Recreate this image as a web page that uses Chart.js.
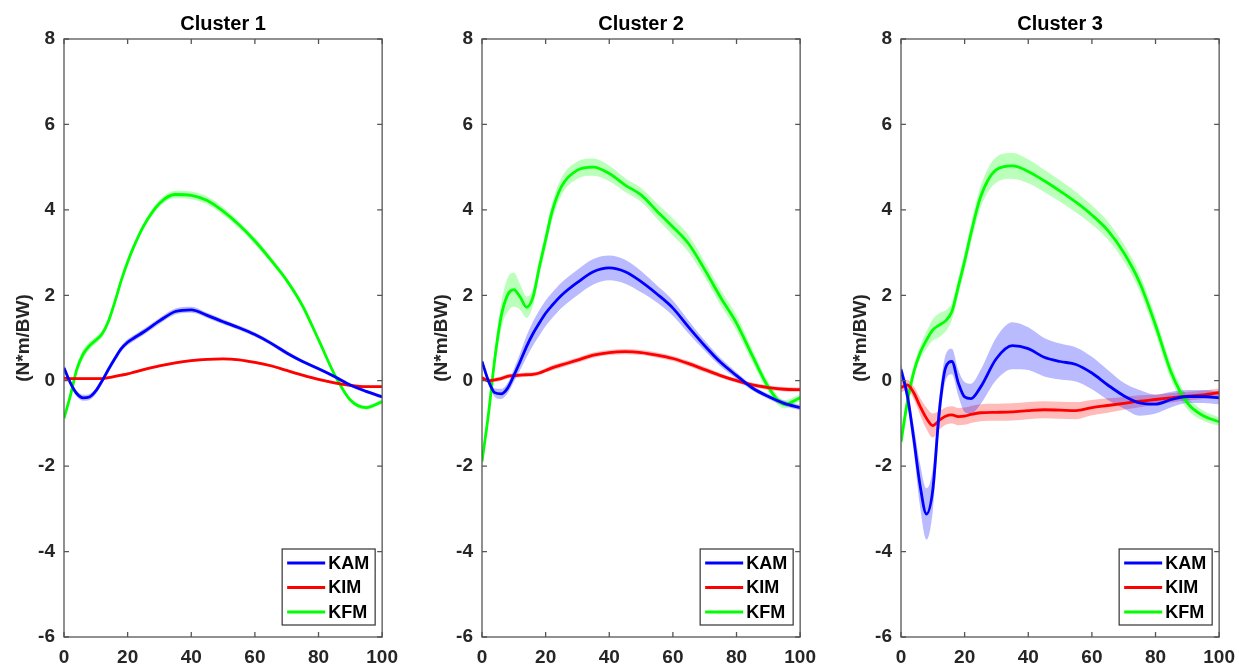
<!DOCTYPE html>
<html>
<head>
<meta charset="utf-8">
<script src="https://cdn.jsdelivr.net/npm/chart.js@4.4.1/dist/chart.umd.min.js"></script>
<style>
  body { margin: 0; background: #fff; overflow: hidden; }
  #wrap { position: relative; width: 1239px; height: 668px; overflow: hidden; }
  #wrap canvas { position: absolute; top: 0; }
</style>
</head>
<body>
<div id="wrap">
  <canvas id="c1" width="407" height="668" style="left:0px"></canvas>
  <canvas id="c2" width="407" height="668" style="left:418px"></canvas>
  <canvas id="c3" width="407" height="668" style="left:837px"></canvas>
</div>
<script>
// % of stance phase
const pct = [0, 2, 4, 6, 8, 10, 12, 14, 16, 18, 20, 22, 25, 30, 35, 40, 45, 50, 55, 60, 65, 70, 75, 80, 85, 90, 95, 100];

const seriesNames = ['KAM', 'KIM', 'KFM'];
const lineColors = ['#0000ff', '#ff0000', '#00ff00'];
const bandColors = ['rgba(0,0,255,0.27)', 'rgba(255,0,0,0.27)', 'rgba(0,255,0,0.27)'];
const clusterTitles = ['Cluster 1', 'Cluster 2', 'Cluster 3'];

// cluster 1
const c1KAM   = [0.3, -0.05, -0.3, -0.4, -0.38, -0.24, 0.0, 0.27, 0.52, 0.75, 0.9, 1.0, 1.14, 1.4, 1.62, 1.66, 1.53, 1.38, 1.24, 1.08, 0.88, 0.65, 0.45, 0.28, 0.1, -0.1, -0.25, -0.38];
const c1KAMsd = [0.05, 0.06, 0.07, 0.07, 0.07, 0.07, 0.07, 0.07, 0.07, 0.07, 0.07, 0.07, 0.07, 0.07, 0.07, 0.07, 0.06, 0.06, 0.05, 0.05, 0.05, 0.05, 0.04, 0.04, 0.04, 0.04, 0.04, 0.04];
const c1KIM   = [0.06, 0.05, 0.05, 0.05, 0.05, 0.05, 0.05, 0.07, 0.1, 0.13, 0.16, 0.2, 0.26, 0.35, 0.42, 0.47, 0.5, 0.51, 0.49, 0.43, 0.35, 0.24, 0.13, 0.03, -0.05, -0.11, -0.14, -0.14];
const c1KIMsd = [0.03, 0.03, 0.03, 0.03, 0.03, 0.03, 0.03, 0.03, 0.03, 0.03, 0.03, 0.03, 0.03, 0.03, 0.03, 0.03, 0.03, 0.03, 0.03, 0.03, 0.03, 0.03, 0.03, 0.03, 0.03, 0.03, 0.03, 0.03];
const c1KFM   = [-0.88, -0.35, 0.26, 0.62, 0.82, 0.95, 1.1, 1.4, 1.85, 2.35, 2.78, 3.15, 3.62, 4.15, 4.36, 4.34, 4.22, 3.97, 3.65, 3.27, 2.83, 2.35, 1.75, 0.96, 0.15, -0.45, -0.63, -0.49];
const c1KFMsd = [0.05, 0.08, 0.1, 0.1, 0.09, 0.08, 0.08, 0.08, 0.08, 0.08, 0.08, 0.08, 0.08, 0.08, 0.09, 0.09, 0.09, 0.09, 0.08, 0.08, 0.07, 0.06, 0.06, 0.05, 0.05, 0.05, 0.05, 0.05];

// cluster 2
const c2KAM   = [0.45, 0.0, -0.28, -0.31, -0.18, 0.12, 0.45, 0.8, 1.1, 1.35, 1.58, 1.76, 2.0, 2.3, 2.55, 2.64, 2.55, 2.32, 2.03, 1.7, 1.25, 0.82, 0.43, 0.12, -0.17, -0.37, -0.53, -0.63];
const c2KAMsd = [0.05, 0.08, 0.1, 0.12, 0.12, 0.15, 0.2, 0.25, 0.28, 0.3, 0.3, 0.3, 0.3, 0.3, 0.3, 0.29, 0.28, 0.25, 0.2, 0.18, 0.15, 0.12, 0.1, 0.08, 0.06, 0.06, 0.06, 0.06];
const c2KIM   = [0.07, 0.0, 0.02, 0.05, 0.1, 0.12, 0.13, 0.14, 0.15, 0.18, 0.24, 0.3, 0.37, 0.48, 0.6, 0.66, 0.68, 0.66, 0.6, 0.52, 0.4, 0.26, 0.12, 0.0, -0.1, -0.16, -0.2, -0.21];
const c2KIMsd = [0.05, 0.05, 0.05, 0.05, 0.05, 0.05, 0.05, 0.05, 0.05, 0.05, 0.05, 0.06, 0.06, 0.06, 0.06, 0.06, 0.06, 0.06, 0.06, 0.06, 0.06, 0.06, 0.05, 0.05, 0.05, 0.05, 0.05, 0.05];
const c2KFM   = [-1.89, -0.8, 0.5, 1.5, 2.0, 2.13, 1.96, 1.72, 1.95, 2.65, 3.3, 3.95, 4.55, 4.93, 5.0, 4.85, 4.58, 4.35, 3.97, 3.6, 3.2, 2.6, 1.95, 1.35, 0.58, -0.15, -0.55, -0.4];
const c2KFMsd = [0.1, 0.15, 0.2, 0.3, 0.4, 0.4, 0.3, 0.25, 0.2, 0.2, 0.2, 0.2, 0.2, 0.2, 0.2, 0.18, 0.16, 0.16, 0.18, 0.2, 0.2, 0.18, 0.18, 0.18, 0.15, 0.12, 0.1, 0.08];

// cluster 3
const c3KAM   = [0.26, -0.35, -1.35, -2.45, -3.12, -2.55, -0.75, 0.3, 0.45, -0.05, -0.38, -0.42, -0.15, 0.52, 0.82, 0.75, 0.55, 0.45, 0.38, 0.18, -0.1, -0.35, -0.52, -0.55, -0.44, -0.37, -0.37, -0.4];
const c3KAMsd = [0.15, 0.2, 0.3, 0.5, 0.6, 0.5, 0.35, 0.3, 0.3, 0.3, 0.35, 0.35, 0.4, 0.5, 0.55, 0.5, 0.45, 0.42, 0.4, 0.38, 0.35, 0.3, 0.3, 0.22, 0.18, 0.15, 0.15, 0.15];
const c3KIM   = [-0.16, -0.1, -0.28, -0.6, -0.88, -1.05, -0.93, -0.83, -0.8, -0.84, -0.83, -0.79, -0.75, -0.74, -0.73, -0.7, -0.68, -0.69, -0.7, -0.63, -0.58, -0.53, -0.48, -0.44, -0.4, -0.36, -0.33, -0.28];
const c3KIMsd = [0.12, 0.12, 0.15, 0.2, 0.25, 0.28, 0.22, 0.2, 0.2, 0.2, 0.2, 0.2, 0.2, 0.2, 0.2, 0.2, 0.2, 0.2, 0.2, 0.18, 0.17, 0.15, 0.14, 0.12, 0.11, 0.1, 0.1, 0.1];
const c3KFM   = [-1.43, -0.5, 0.2, 0.65, 0.95, 1.19, 1.3, 1.4, 1.62, 2.2, 2.8, 3.45, 4.3, 4.94, 5.03, 4.9, 4.68, 4.44, 4.18, 3.88, 3.52, 3.0, 2.3, 1.3, 0.18, -0.52, -0.82, -0.96];
const c3KFMsd = [0.25, 0.2, 0.15, 0.15, 0.2, 0.25, 0.28, 0.25, 0.2, 0.2, 0.2, 0.22, 0.25, 0.3, 0.3, 0.28, 0.26, 0.25, 0.24, 0.22, 0.21, 0.2, 0.2, 0.2, 0.18, 0.15, 0.12, 0.1];

const clusters = [
  { means: [c1KAM, c1KIM, c1KFM], sds: [c1KAMsd, c1KIMsd, c1KFMsd] },
  { means: [c2KAM, c2KIM, c2KFM], sds: [c2KAMsd, c2KIMsd, c2KFMsd] },
  { means: [c3KAM, c3KIM, c3KFM], sds: [c3KAMsd, c3KIMsd, c3KFMsd] }
];

const FONT = "'Liberation Sans', Arial, sans-serif";
const AXIS_COL = '#262626';

function pts(vals) {
  return pct.map((x, i) => ({ x: x, y: vals[i] }));
}

function makeDatasets(c) {
  const ds = [];
  // mean lines first (legend + drawn on top)
  seriesNames.forEach((name, i) => {
    ds.push({
      label: name, data: pts(c.means[i]), borderColor: lineColors[i], borderWidth: 2.8,
      pointRadius: 0, fill: false, cubicInterpolationMode: 'monotone', order: 0
    });
  });
  seriesNames.forEach((name, i) => {
    const lo = c.means[i].map((v, k) => v - c.sds[i][k]);
    const hi = c.means[i].map((v, k) => v + c.sds[i][k]);
    const loIdx = ds.length;
    ds.push({ label: '_lo', data: pts(lo), borderWidth: 0, borderColor: 'transparent', pointRadius: 0,
      fill: false, cubicInterpolationMode: 'monotone', order: 1 });
    ds.push({ label: '_hi', data: pts(hi), borderWidth: 0, borderColor: 'transparent', pointRadius: 0,
      backgroundColor: bandColors[i], fill: { target: loIdx }, cubicInterpolationMode: 'monotone', order: 1 });
  });
  return ds;
}

// box + inward ticks like matlab, and legend in lower right corner
const matlabAxes = {
  id: 'matlabAxes',
  afterDraw(chart) {
    const ctx = chart.ctx, a = chart.chartArea;
    const xs = chart.scales.x, ys = chart.scales.y;
    ctx.save();
    ctx.strokeStyle = '#555';
    ctx.lineWidth = 1.3;
    ctx.strokeRect(a.left, a.top, a.right - a.left, a.bottom - a.top);
    ctx.beginPath();
    xs.ticks.forEach(t => {
      const px = xs.getPixelForValue(t.value);
      ctx.moveTo(px, a.bottom); ctx.lineTo(px, a.bottom - 5);
      ctx.moveTo(px, a.top); ctx.lineTo(px, a.top + 5);
    });
    ys.ticks.forEach(t => {
      const py = ys.getPixelForValue(t.value);
      ctx.moveTo(a.left, py); ctx.lineTo(a.left + 5, py);
      ctx.moveTo(a.right, py); ctx.lineTo(a.right - 5, py);
    });
    ctx.stroke();

    // legend
    const w = 93, h = 76;
    const bx = a.right - 7 - w, by = a.bottom - 12 - h;
    ctx.fillStyle = '#fff';
    ctx.fillRect(bx, by, w, h);
    ctx.strokeStyle = '#333';
    ctx.lineWidth = 1.2;
    ctx.strokeRect(bx, by, w, h);
    ctx.font = 'bold 18px ' + FONT;
    ctx.textBaseline = 'middle';
    ctx.textAlign = 'left';
    const lines = chart.data.datasets.filter(d => d.label[0] !== '_');
    lines.forEach((d, i) => {
      const y = by + 14 + i * 24.5;
      ctx.strokeStyle = d.borderColor;
      ctx.lineWidth = 2.8;
      ctx.beginPath();
      ctx.moveTo(bx + 5, y); ctx.lineTo(bx + 43, y);
      ctx.stroke();
      ctx.fillStyle = '#000';
      ctx.fillText(d.label, bx + 46, y + 1);
    });
    ctx.restore();
  }
};

['c1', 'c2', 'c3'].forEach((id, n) => {
  new Chart(document.getElementById(id), {
    type: 'line',
    data: { datasets: makeDatasets(clusters[n]) },
    plugins: [matlabAxes],
    options: {
      responsive: false,
      animation: false,
      layout: { padding: { left: 0, right: 0, top: 0, bottom: 0 } },
      plugins: {
        legend: { display: false },
        tooltip: { enabled: false },
        title: {
          display: true, text: clusterTitles[n], fullSize: false, color: '#000',
          font: { family: FONT, size: 20, weight: 'bold' }, padding: { top: 12, bottom: 3 }
        }
      },
      scales: {
        x: {
          type: 'linear', min: 0, max: 100,
          ticks: { stepSize: 20, color: AXIS_COL, padding: 9, font: { family: FONT, size: 19, weight: 'bold' } },
          grid: { display: false, drawTicks: false },
          border: { display: false },
          afterFit: s => { s.height = 31; }
        },
        y: {
          min: -6, max: 8,
          ticks: { stepSize: 2, color: AXIS_COL, padding: 9, font: { family: FONT, size: 19, weight: 'bold' } },
          grid: { display: false, drawTicks: false },
          border: { display: false },
          title: {
            display: true, text: '(N*m/BW)', color: AXIS_COL,
            font: { family: FONT, size: 19, weight: 'bold' }, padding: { top: 12, bottom: 0 }
          },
          afterFit: s => { s.width = 64; }
        }
      }
    }
  });
});
</script>
</body>
</html>
